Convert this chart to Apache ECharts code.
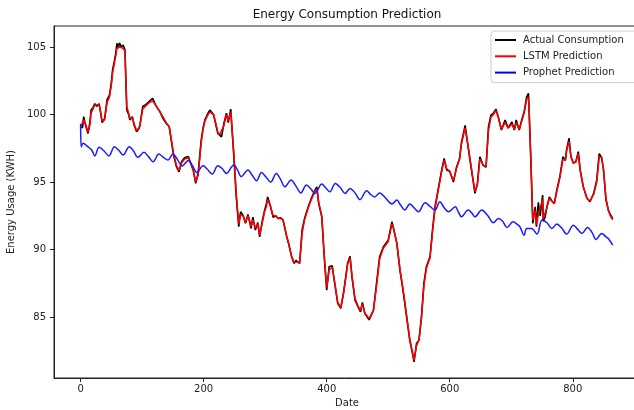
<!DOCTYPE html>
<html><head><meta charset="utf-8">
<script src="https://cdn.jsdelivr.net/npm/echarts@6/dist/echarts.min.js"></script>
<style>html,body{margin:0;padding:0;background:#fff}#c{width:634px;height:410px}</style>
</head><body><div id="c"></div>
<script>
const dayIdx = [0,3,5,8,12,15,17,20,23,26,30,33,35,39,43,47,50,52,55,57,59,61,63,66,69,72,75,78,80,84,87,91,94,96,101,105,108,112,115,117,120,122,126,129,134,139,144,148,151,156,160,164,169,172,175,178,183,187,191,196,199,202,206,210,213,216,219,223,226,229,233,237,240,244,246,247,249,253,257,260,264,268,272,275,277,280,284,288,291,295,299,302,304,308,313,317,321,325,329,335,338,343,347,350,352,356,360,364,370,375,381,384,387,392,396,400,404,409,413,418,423,428,434,438,441,446,451,455,458,462,469,476,481,486,492,500,506,508,514,519,524,530,535,540,542,546,550,554,558,562,568,572,576,581,587,591,595,600,606,611,616,619,625,629,633,637,641,645,649,654,659,663,667,671,675,679,684,690,695,701,705,708,713,717,721,725,728,729,732,735,739,741,744,747,751,752,755,758,762,766,770,774,779,784,788,790,794,797,801,805,809,812,817,823,828,834,839,843,847,850,854,858,861,865];
const actualKwh = [99.2,99.0,99.84,99.2,98.6,99.4,100.33,100.5,100.8,100.6,100.8,100.0,99.4,99.7,101.1,101.45,102.4,103.3,104.0,104.5,105.27,104.9,105.3,105.0,105.15,104.8,100.33,100.0,99.6,99.84,99.2,98.73,98.9,99.1,100.6,100.7,100.8,101.0,100.9,101.2,100.9,100.7,100.4,100.2,99.7,99.35,99.1,97.9,97.0,96.1,95.75,96.5,96.8,96.7,96.9,96.5,95.9,94.9,95.65,98.1,99.0,99.6,100.0,100.33,100.2,100.0,99.4,98.6,98.5,98.35,99.35,100.1,99.4,100.4,100.5,100.3,96.9,93.9,91.7,92.8,92.55,91.95,92.6,92.0,91.57,92.4,91.45,92.0,90.95,92.06,92.9,93.4,93.9,93.3,92.4,92.5,92.3,92.35,92.2,90.95,90.46,89.47,88.98,89.2,89.1,88.98,91.45,92.3,93.17,93.8,94.4,94.65,93.4,92.43,89.47,87.0,88.73,88.8,87.5,86.0,85.65,87.0,89.0,89.5,88.0,86.26,85.77,85.4,86.1,85.27,84.8,85.5,87.5,89.47,90.2,90.7,92.06,91.7,90.46,88.5,87.0,85.0,83.3,82.2,81.7,83.05,83.3,85.0,87.5,88.73,89.47,91.45,93.17,94.4,95.9,96.75,95.9,95.8,95.0,96.1,96.75,97.9,99.2,97.9,96.6,95.4,94.16,94.9,96.87,96.26,96.1,99.1,99.96,100.1,100.4,99.8,98.85,99.6,99.0,99.45,98.85,99.6,98.85,99.6,100.2,101.3,101.57,100.3,96.4,91.95,93.17,91.7,93.5,92.5,94.04,92.1,92.4,93.17,93.9,93.6,93.4,94.4,95.4,96.87,96.6,97.4,98.24,96.87,96.4,96.5,97.25,95.9,94.65,93.8,93.54,94.16,95.15,97.1,96.8,95.9,93.67,92.9,92.6,92.3];
const lstmKwh = [99.1,99.1,99.6,99.3,98.7,99.2,100.1,100.4,100.7,100.6,100.7,100.1,99.5,99.6,100.9,101.3,102.2,103.1,103.8,104.3,104.9,104.8,105.0,104.9,104.9,104.7,100.6,100.1,99.7,99.8,99.3,98.8,98.9,99.1,100.4,100.6,100.7,100.9,100.9,101.0,100.9,100.7,100.4,100.2,99.8,99.4,99.1,98.0,97.1,96.2,95.85,96.4,96.7,96.7,96.8,96.5,95.9,95.0,95.5,97.9,98.9,99.5,99.9,100.2,100.2,100.0,99.5,98.7,98.5,98.4,99.2,100.0,99.5,100.2,100.3,100.2,97.2,94.1,91.9,92.6,92.5,92.0,92.5,92.1,91.7,92.2,91.6,91.9,91.1,91.9,92.8,93.2,93.7,93.3,92.5,92.5,92.3,92.3,92.2,91.0,90.5,89.5,89.05,89.1,89.1,89.0,91.2,92.2,93.1,93.7,94.3,94.5,93.5,92.5,89.6,87.2,88.5,88.7,87.6,86.1,85.7,86.9,88.9,89.4,88.1,86.4,85.8,85.5,86.0,85.3,84.9,85.5,87.3,89.3,90.1,90.6,91.9,91.7,90.5,88.6,87.1,85.1,83.4,82.3,81.8,82.9,83.3,84.9,87.3,88.6,89.4,91.3,93.0,94.3,95.8,96.6,96.0,95.8,95.1,96.0,96.7,97.8,99.0,97.9,96.7,95.5,94.3,94.8,96.7,96.3,96.1,98.8,99.8,100.0,100.3,99.8,98.9,99.4,99.0,99.3,98.9,99.4,98.9,99.5,100.1,101.1,101.3,100.4,96.6,92.2,92.9,91.8,92.6,92.5,93.7,92.3,92.4,93.1,93.8,93.6,93.4,94.3,95.3,96.7,96.6,97.3,98.0,96.9,96.4,96.5,97.1,95.9,94.7,93.8,93.6,94.1,95.0,96.9,96.8,95.9,93.8,92.9,92.5,92.2];
const prophetDays = [0,1,4,12,18,23,30,38,46,55,62,69,79,86,93,103,110,118,127,134,142,150,157,165,175,182,189,199,206,214,223,230,237,249,255,261,272,279,286,294,301,309,318,325,332,342,350,358,367,374,381,392,398,405,414,422,430,438,446,454,465,471,478,486,496,506,514,520,527,535,542,549,560,568,576,584,591,598,609,614,619,630,636,641,652,662,671,679,686,693,703,709,714,721,725,733,742,750,758,766,774,782,790,801,808,815,824,831,838,847,854,858,865];
const prophetKwh = [99.3,97.6,97.87,97.6,97.37,96.93,97.57,97.3,96.93,97.62,97.35,97.0,97.62,97.3,96.83,97.2,96.9,96.5,97.07,96.85,96.63,97.07,96.7,96.19,96.6,96.2,95.7,96.2,95.95,95.6,96.2,96.0,95.64,96.26,95.9,95.4,95.9,95.5,95.1,95.7,95.4,95.0,95.64,95.2,94.65,95.15,94.7,94.2,94.78,94.5,94.16,94.85,94.6,94.28,94.9,94.6,94.16,94.53,94.2,93.7,94.36,94.1,93.9,94.2,93.8,93.37,93.67,93.3,92.93,93.37,93.1,92.8,93.47,93.2,92.93,93.54,93.1,92.8,93.17,92.8,92.43,92.93,92.7,92.43,92.93,92.5,91.99,92.3,92.1,91.64,92.06,91.9,91.7,91.07,91.57,91.57,91.15,92.19,91.99,91.57,91.89,91.6,91.15,91.81,91.5,91.2,91.64,91.3,90.75,91.2,90.95,90.8,90.33];
const xTicks = [0,200,400,600,800];
const yTicks = [85,90,95,100,105];
const seriesNames = ['Actual Consumption','LSTM Prediction','Prophet Prediction'];

const FONT = 'DejaVu Sans';
const chart = echarts.init(document.getElementById('c'), null, {renderer:'canvas'});
chart.setOption({
  animation: false,
  backgroundColor: '#fff',
  title: {
    text: 'Energy Consumption Prediction',
    left: 347, top: 9, padding: 0, textAlign: 'center',
    textStyle: {fontFamily: FONT, fontSize: 12, fontWeight: 'normal', color: '#111'}
  },
  legend: {
    orient: 'vertical', left: 491, top: 31,
    padding: [3, 14, 4, 4], itemGap: 4.3, itemWidth: 21, itemHeight: 2, icon: 'rect',
    borderColor: '#cccccc', borderWidth: 1, borderRadius: 3, backgroundColor: 'rgba(255,255,255,0.85)',
    textStyle: {fontFamily: FONT, fontSize: 10, color: '#222', lineHeight: 12, padding: [0,0,0,2]},
    data: seriesNames
  },
  grid: {left: 54, top: 26, width: 586, height: 352, show: true, borderColor: '#222', borderWidth: 1,
         containLabel: false, outerBoundsMode: 'none'},
  xAxis: {
    type: 'value', min: -43.3, max: 909.3,
    name: 'Date', nameLocation: 'middle', nameGap: 19,
    nameTextStyle: {fontFamily: FONT, fontSize: 10, color: '#222'},
    axisLine: {show: true, onZero: false, lineStyle: {color: '#222', width: 1}},
    axisTick: {show: true, length: 4, lineStyle: {color: '#222'}, customValues: xTicks},
    axisLabel: {fontFamily: FONT, fontSize: 10, color: '#222', margin: 6, customValues: xTicks},
    splitLine: {show: false}
  },
  yAxis: {
    type: 'value', min: 80.5, max: 106.55,
    name: 'Energy Usage (KWH)', nameLocation: 'middle', nameGap: 30,
    nameTextStyle: {fontFamily: FONT, fontSize: 10, color: '#222'},
    axisLine: {show: true, onZero: false, lineStyle: {color: '#222', width: 1}},
    axisTick: {show: true, length: 4, lineStyle: {color: '#222'}, customValues: yTicks},
    axisLabel: {fontFamily: FONT, fontSize: 10, color: '#222', margin: 8, customValues: yTicks},
    splitLine: {show: false}
  },
  series: [
    {name: seriesNames[0], type: 'line', symbol: 'none', color: '#000000',
     lineStyle: {width: 1.6, color: '#000000'}, data: dayIdx.map((d,i)=>[d, actualKwh[i]]), z: 2},
    {name: seriesNames[1], type: 'line', symbol: 'none', color: '#ff0000',
     lineStyle: {width: 1.5, color: '#ff0000'}, data: dayIdx.map((d,i)=>[d, lstmKwh[i]]), z: 3},
    {name: seriesNames[2], type: 'line', symbol: 'none', color: '#0000ff', smooth: 0.35,
     lineStyle: {width: 1.5, color: '#1a1aff'}, data: prophetDays.map((d,i)=>[d, prophetKwh[i]]), z: 4}
  ]
});
</script></body></html>
